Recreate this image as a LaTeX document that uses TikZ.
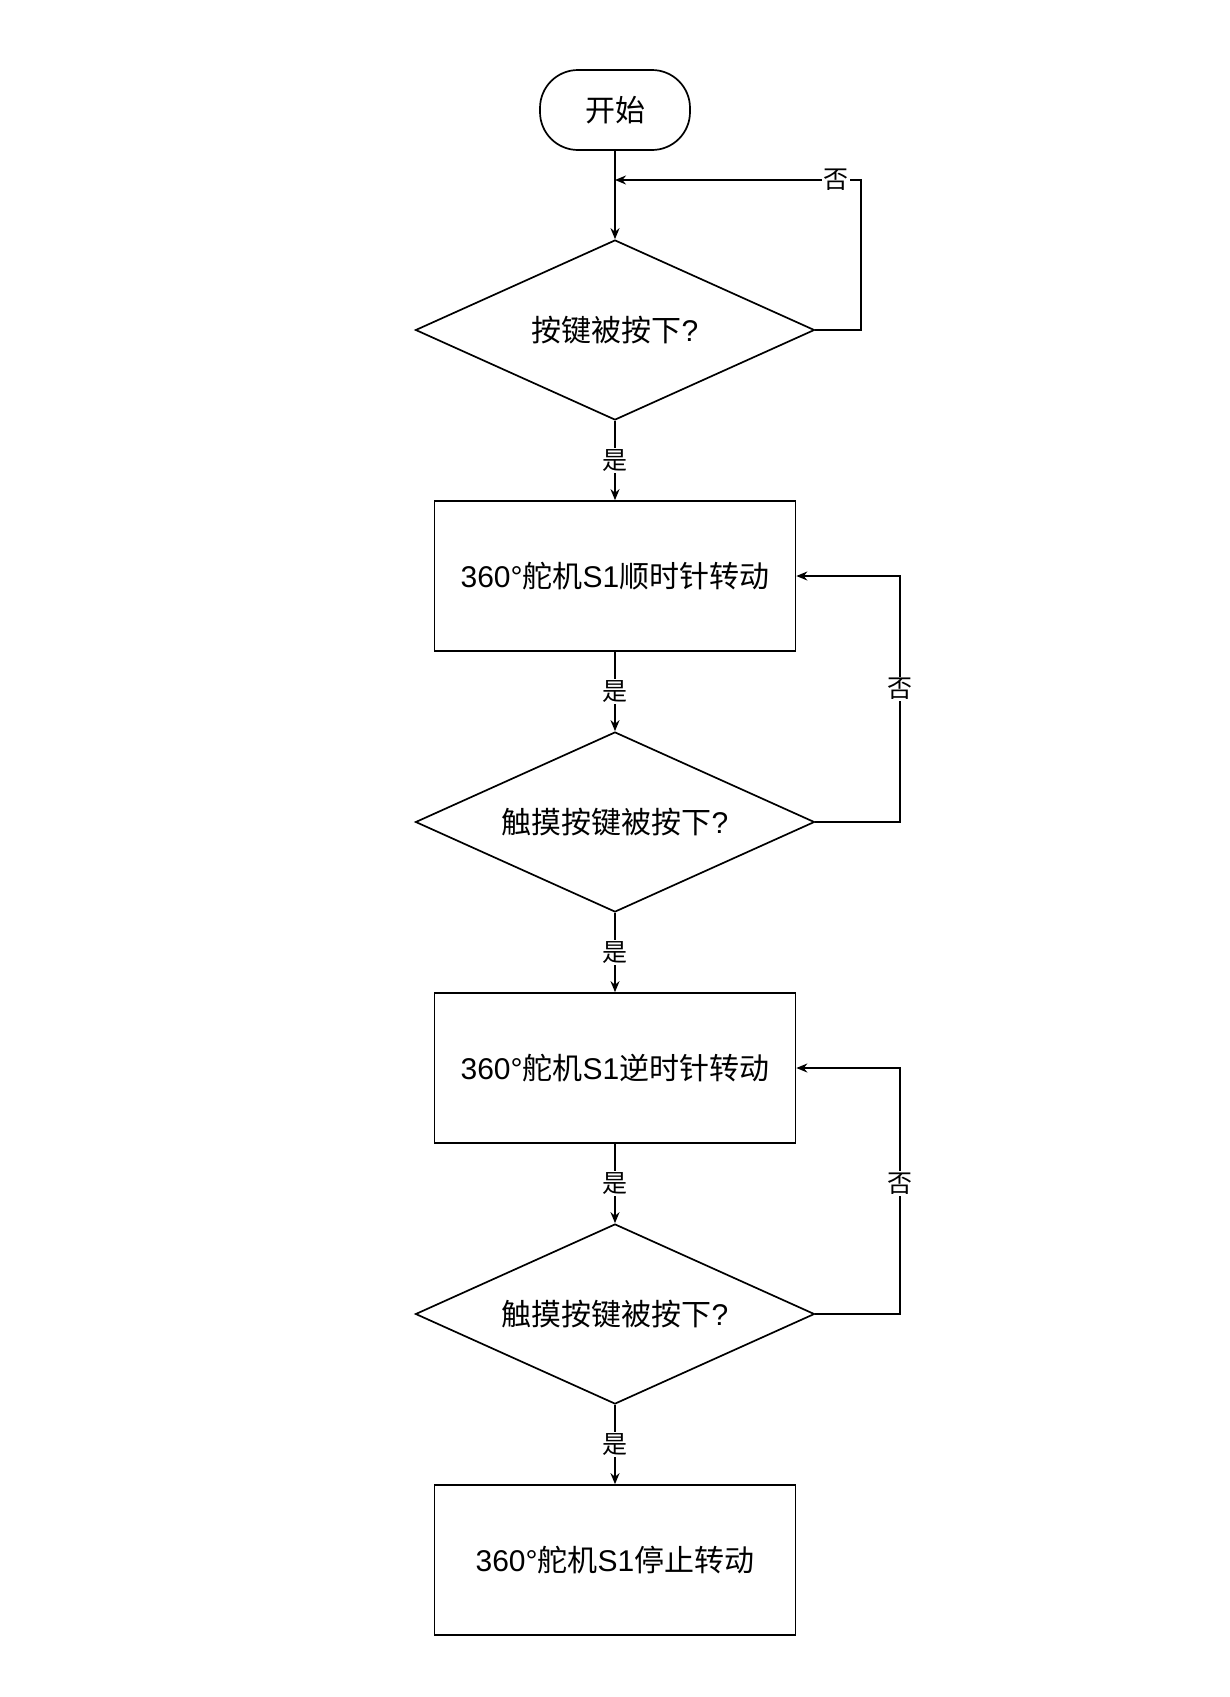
\documentclass[tikz,border=0pt]{standalone}
\usepackage{fontspec}
\setmainfont{Liberation Sans}
\newfontfamily\cjk{Noto Sans CJK SC}
\usetikzlibrary{shapes.geometric}
\usetikzlibrary{arrows.meta}
\tikzset{>={Stealth[width=9pt,length=11pt]}}

\begin{document}
\begin{tikzpicture}[x=1pt,y=-1pt,line width=1.7pt,
  txt/.style={font=\fontsize{30}{35}\selectfont},
  startbox/.style={draw,txt,rounded corners=38pt,minimum width=150pt,minimum height=80pt},
  stepbox/.style={draw,txt,rectangle,minimum width=361pt,minimum height=150pt},
  testbox/.style={draw,txt,diamond,aspect=2.2,inner sep=2pt,minimum width=399pt,minimum height=180pt},
  lbl/.style={fill=white,inner sep=1.5pt,font=\cjk\fontsize{25}{29}\selectfont}]

  \useasboundingbox (0,0) rectangle (1230,1697);

  \node[startbox] (start) at (615,110) {\cjk 开始};
  \node[testbox] (key) at (615,330) {{\cjk 按键被按下}?};
  \node[stepbox] (cw) at (615,576) {360°{\cjk 舵机}S1{\cjk 顺时针转动}};
  \node[testbox] (touch1) at (615,822) {{\cjk 触摸按键被按下}?};
  \node[stepbox] (ccw) at (615,1068) {360°{\cjk 舵机}S1{\cjk 逆时针转动}};
  \node[testbox] (touch2) at (615,1314) {{\cjk 触摸按键被按下}?};
  \node[stepbox] (stop) at (615,1560) {360°{\cjk 舵机}S1{\cjk 停止转动}};

  %% turn points of the "no" loops
  \coordinate (m1) at (615,180);
  \coordinate (r1b) at (861,330);
  \coordinate (r1t) at (861,180);
  \coordinate (r2b) at (900,822);
  \coordinate (r2t) at (900,576);
  \coordinate (r3b) at (900,1314);
  \coordinate (r3t) at (900,1068);

  \draw[->] (start) -- (key);
  \draw[->] (key) -- node[lbl]{是} (cw);
  \draw[->] (cw) -- node[lbl]{是} (touch1);
  \draw[->] (touch1) -- node[lbl]{是} (ccw);
  \draw[->] (ccw) -- node[lbl]{是} (touch2);
  \draw[->] (touch2) -- node[lbl]{是} (stop);

  \draw[->] (key.east) -- (r1b) -- (r1t) -- node[lbl,pos=0.1]{否} (m1); %% back to key
  \draw[->] (touch1.east) -- (r2b) -- node[lbl,pos=0.54]{否} (r2t) -- (cw.east);
  \draw[->] (touch2.east) -- (r3b) -- node[lbl,pos=0.53]{否} (r3t) -- (ccw.east);

\end{tikzpicture}
\end{document}
